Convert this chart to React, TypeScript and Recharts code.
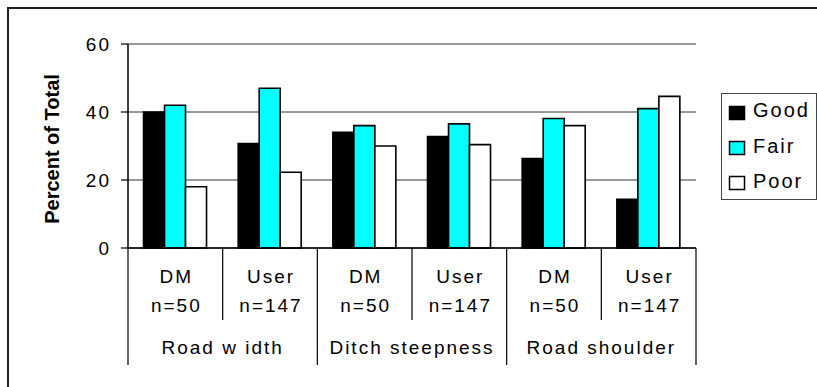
import { BarChart, Bar, XAxis, YAxis, CartesianGrid, Legend } from 'recharts';

// Survey ratings by respondent type for three roadside features
const groups = ['Road w idth', 'Ditch steepness', 'Road shoulder'];
const respondents = ['DM', 'User', 'DM', 'User', 'DM', 'User'];
const sampleSizes = ['n=50', 'n=147', 'n=50', 'n=147', 'n=50', 'n=147'];
const good = [40, 30.7, 34, 32.8, 26.3, 14.3];
const fair = [42, 47, 36, 36.5, 38.1, 41];
const poor = [18, 22.3, 30, 30.4, 36, 44.6];
const yTicks = [0, 20, 40, 60];

const series = [
  { key: 'good', name: 'Good', color: '#000000' },
  { key: 'fair', name: 'Fair', color: '#00ffff' },
  { key: 'poor', name: 'Poor', color: '#ffffff' },
];

const data = respondents.map((r, i) => ({
  key: `${groups[Math.floor(i / 2)]}-${r}`,
  good: good[i],
  fair: fair[i],
  poor: poor[i],
}));

const FONT = "'Liberation Sans', Arial, sans-serif";
const WIDTH = 809;
const HEIGHT = 379;
const MARGIN = { top: 36, right: 121, bottom: 22, left: 0 };
const Y_AXIS_W = 120;
const PLOT_W = WIDTH - MARGIN.left - MARGIN.right - Y_AXIS_W;
const BAND = PLOT_W / respondents.length;

function CategoryTick(props: any) {
  const { x, y, index } = props;
  const half = BAND / 2;
  const groupStart = index % 2 === 0;
  const last = index === respondents.length - 1;
  const textProps = {
    textAnchor: 'middle' as const,
    fontSize: 19,
    fontFamily: FONT,
    letterSpacing: 2,
    fill: '#000',
  };
  return (
    <g>
      <line x1={x - half} x2={x - half} y1={y} y2={y + (groupStart ? 117 : 72)} stroke="#000" strokeWidth={1.2} />
      {last && <line x1={x + half} x2={x + half} y1={y} y2={y + 117} stroke="#000" strokeWidth={1.2} />}
      <text x={x + 1} y={y + 35} {...textProps}>{respondents[index]}</text>
      <text x={x + 1} y={y + 64} {...textProps}>{sampleSizes[index]}</text>
      {groupStart && (
        <text x={x + half} y={y + 106} {...textProps}>{groups[index / 2]}</text>
      )}
    </g>
  );
}

function YLabel(props: any) {
  const { viewBox } = props;
  const cx = 43.5;
  const cy = viewBox.y + viewBox.height / 2 + 3;
  return (
    <text
      x={cx}
      y={cy}
      transform={`rotate(-90 ${cx} ${cy})`}
      textAnchor="middle"
      dominantBaseline="central"
      fontSize={20}
      fontWeight="bold"
      fontFamily={FONT}
      fill="#000"
    >
      Percent of Total
    </text>
  );
}

function LegendBox() {
  return (
    <div
      style={{
        width: 96,
        height: 107,
        boxSizing: 'border-box',
        border: '1px solid #444',
        background: '#fff',
      }}
    >
      <svg width={94} height={105} style={{ display: 'block' }}>
        {series.map((s, i) => (
          <g key={s.key}>
            <rect x={7.5} y={12.5 + i * 35} width={15} height={13} fill={s.color} stroke="#000" strokeWidth={1.5} />
            <text
              x={31}
              y={23 + i * 35.5}
              fontSize={20}
              fontFamily={FONT}
              letterSpacing={2}
              fill="#000"
            >
              {s.name}
            </text>
          </g>
        ))}
      </svg>
    </div>
  );
}

export default function App() {
  return (
    <div
      style={{
        position: 'fixed',
        left: 0,
        top: 0,
        width: 817,
        height: 387,
        overflow: 'hidden',
        background: '#fff',
        fontFamily: FONT,
      }}
    >
      {/* outer frame: only top and left edges fall inside the page */}
      <div
        style={{
          position: 'absolute',
          left: 7,
          top: 7,
          width: 820,
          height: 390,
          borderTop: '2px solid #222',
          borderLeft: '2px solid #222',
        }}
      />
      <div style={{ position: 'absolute', left: 8, top: 8, width: WIDTH, height: HEIGHT }}>
        <BarChart
          width={WIDTH}
          height={HEIGHT}
          data={data}
          margin={MARGIN}
          barGap={0}
          barCategoryGap="16.4%"
        >
          <CartesianGrid horizontal vertical={false} stroke="#333" strokeWidth={1} />
          <XAxis
            dataKey="key"
            interval={0}
            height={117}
            tickLine={false}
            tickSize={0}
            tickMargin={0}
            axisLine={{ stroke: '#000', strokeWidth: 1.5 }}
            tick={CategoryTick}
          />
          <YAxis
            width={Y_AXIS_W}
            domain={[0, 60]}
            ticks={yTicks}
            interval={0}
            tickSize={7}
            tickMargin={10}
            axisLine={{ stroke: '#000', strokeWidth: 1.5 }}
            tickLine={{ stroke: '#000', strokeWidth: 1.2 }}
            tick={{ fill: '#000', fontSize: 19, fontFamily: FONT, letterSpacing: 2 }}
            label={{ content: YLabel }}
          />
          <Legend
            layout="vertical"
            verticalAlign="middle"
            align="center"
            wrapperStyle={{ position: 'absolute', left: 713, top: 85, width: 96 }}
            content={() => <LegendBox />}
          />
          {series.map((s) => (
            <Bar
              key={s.key}
              dataKey={s.key}
              name={s.name}
              fill={s.color}
              stroke="#000"
              strokeWidth={1.6}
              isAnimationActive={false}
            />
          ))}
        </BarChart>
      </div>
    </div>
  );
}
